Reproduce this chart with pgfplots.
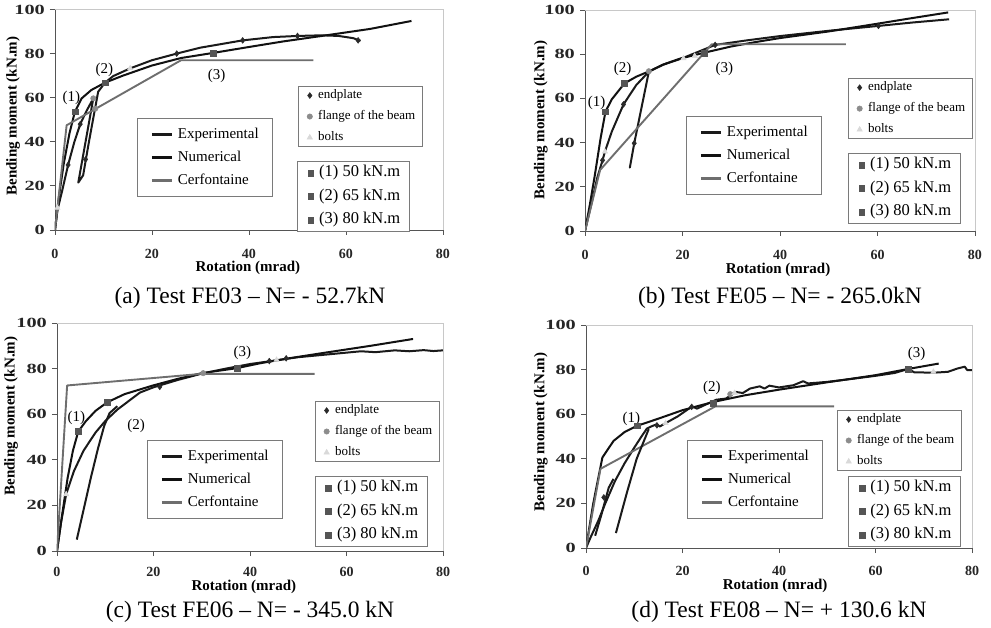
\documentclass[border=0pt]{standalone}
\usepackage{pgfplots}
\pgfplotsset{compat=1.18}
\usepackage{fontspec}
\setmainfont{Liberation Serif}
\definecolor{expc}{HTML}{1A1A1A}
\definecolor{numc}{HTML}{111111}
\definecolor{cerfc}{HTML}{6E6E6E}
\definecolor{endc}{HTML}{2A2A2A}
\definecolor{flgc}{HTML}{8C8C8C}
\definecolor{bltc}{HTML}{D9D9D9}
\definecolor{sqc}{HTML}{555555}
\definecolor{axc}{HTML}{555555}
\definecolor{frc}{HTML}{C8C8C8}
\definecolor{lgc}{HTML}{7A7A7A}
\tikzset{lab/.style={font=\fontsize{15}{15}\selectfont, inner sep=0pt},
  captxt/.style={font=\fontsize{23.5}{24}\selectfont, inner sep=0pt}}
\pgfplotsset{
  geom/.style={scale only axis, anchor=south west, xmin=0, xmax=80, ymin=0, ymax=100},
  panel/.style={geom,
    xtick={0,20,40,60,80}, ytick={0,20,40,60,80,100},
    axis lines=left, axis line style={-, draw=axc, line width=0.9pt},
    tick align=outside, major tick length=5pt,
    tick style={draw=axc, line width=0.9pt},
    tick label style={font=\fontsize{14}{14}\selectfont\bfseries, text=black!85},
    yticklabel style={xscale=1.45},
    /pgf/number format/assume math mode=true,
    label style={font=\fontsize{15}{15}\selectfont\bfseries, inner sep=0pt},
    xlabel={Rotation (mrad)}, ylabel={Bending moment (kN.m)},
    after end axis/.code={\draw[frc, line width=0.9pt] (rel axis cs:0,1) -- (rel axis cs:1,1) -- (rel axis cs:1,0);},
    legend cell align=left,
    legend style={draw=lgc, line width=0.8pt, fill=white, anchor=north west,
      inner xsep=13pt, inner ysep=8pt, row sep=6.9pt,
      font=\fontsize{15}{15}\selectfont,
      nodes={inner sep=1pt, text height=10.8pt, text depth=3.3pt}},
    legend image code/.code={\draw[##1, line width=3pt] (0pt,0pt) -- (20pt,0pt); \path (24pt,0pt);},
  },
  over/.style={geom, hide axis, legend cell align=left,
    legend image code/.code={\draw[mark repeat=2, mark phase=2, ##1] plot coordinates {(0pt,0pt)(5pt,0pt)(10pt,0pt)}; \path (0pt,0pt) (12pt,0pt);}},
  L2/.style={legend style={draw=lgc, line width=0.8pt, fill=white, anchor=north west,
      inner xsep=6pt, inner ysep=2pt, row sep=6.7pt,
      font=\fontsize{13}{13}\selectfont,
      nodes={inner sep=1pt, text height=9.4pt, text depth=2.9pt}}},
  L3/.style={legend style={draw=lgc, line width=0.8pt, fill=white, anchor=north west,
      inner xsep=8pt, inner ysep=3pt, row sep=6.5pt,
      font=\fontsize{16.5}{16.5}\selectfont,
      nodes={inner sep=1pt, text height=11.5pt, text depth=3.5pt}}},
  expP/.style={expc, line width=2pt, line join=round},
  numP/.style={numc, line width=2pt, line join=round},
  cerfP/.style={cerfc, line width=1.9pt, line join=round},
  endM/.style={only marks, mark=diamond*, mark size=2.9pt, mark options={fill=endc, draw=endc, line width=0.5pt}},
  flgM/.style={only marks, mark=*, mark size=2.7pt, mark options={fill=flgc, draw=flgc, line width=0.5pt}},
  bltM/.style={only marks, mark=triangle*, mark size=3.1pt, mark options={fill=bltc, draw=bltc, line width=0.5pt}},
  sqM/.style={only marks, mark=square*, mark size=2.9pt, mark options={fill=sqc, draw=sqc, line width=0.5pt}},
}
\begin{document}
\begin{tikzpicture}[x=1pt,y=1pt]
\useasboundingbox (0pt,0pt) rectangle (991pt,-628pt);

% ================= (a) =================
\begin{axis}[panel, at={(55pt,-230pt)}, width=388pt, height=220.5pt,
  xticklabel style={yshift=-10.5pt},
  xlabel style={at={(axis description cs:0.497,-0.172)}, anchor=center},
  ylabel style={at={(axis description cs:-0.108,0.517)}, anchor=center},
  legend style={at={(0.2113,0.5079)}}]
\addplot[expP] coordinates {(0,0)(0.5,9)(1.5,18)(2.7,29.5)(4,40)(5.2,48)(6.5,54)(7.9,59.7)(4.8,21.5)(5.8,24.8)(7,40)(8,52)(8.9,62.7)(10.3,66.8)(12,69.8)(15.5,73.3)(20,77)(25.1,80)(30,82.7)(38.7,86)(45,87.5)(50,88)(55,88.3)(58.5,88)(61.5,87)(63,85.8)};
\addlegendentry{Experimental}
\addplot[numP] coordinates {(0,0)(0.8,15)(1.8,30)(3,44)(4.1,53.6)(5.5,59.7)(7.5,63.5)(10.3,66.8)(14,70)(20,74.6)(26,78)(32.6,80.3)(40,83)(47,85.5)(55,88)(65,91.2)(73.5,94.8)};
\addlegendentry{Numerical}
\addplot[cerfP] coordinates {(0,0)(2.4,47.5)(26,77)(53.3,77)};
\addlegendentry{Cerfontaine}
\node[lab] at (axis cs:3.4,60) {(1)};
\node[lab] at (axis cs:10.2,72.5) {(2)};
\node[lab] at (axis cs:33.3,69.8) {(3)};
\end{axis}
\begin{axis}[over, L2, at={(55pt,-230pt)}, width=388pt, height=220.5pt, legend style={at={(0.6263,0.6531)}}]
\addplot[endM] coordinates {(2.7,29.5)(5.2,48)(6.3,32)(25.1,80)(38.7,86)(50,88)(62.5,86)};
\addlegendentry{endplate}
\addplot[flgM] coordinates {(7.9,59.7)(8.3,55)};
\addlegendentry{flange of the beam\hspace{6pt}}
\addplot[bltM] coordinates {(0.5,10)(15.5,73.3)};
\addlegendentry{bolts}
\end{axis}
\begin{axis}[over, L3, at={(55pt,-230pt)}, width=388pt, height=220.5pt, legend style={at={(0.6237,0.3129)}}]
\addplot[sqM] coordinates {(4.1,53.6)}; \addlegendentry{(1) 50 kN.m\hspace{9pt}}
\addplot[sqM] coordinates {(10.3,66.8)}; \addlegendentry{(2) 65 kN.m}
\addplot[sqM] coordinates {(32.6,80.3)}; \addlegendentry{(3) 80 kN.m}
\end{axis}

% ================= (b) =================
\begin{axis}[panel, at={(585pt,-231pt)}, width=390pt, height=221pt,
  xticklabel style={yshift=-11pt},
  xlabel style={at={(axis description cs:0.495,-0.177)}, anchor=center},
  ylabel style={at={(axis description cs:-0.113,0.502)}, anchor=center},
  legend style={at={(0.259,0.520)}}]
\addplot[expP] coordinates {(0,0)(1.5,14)(2.5,24)(3.6,32)(4.1,36)(5.5,45)(7.9,57.3)(10.5,66)(13.1,72.1)(10.1,39.7)(9.2,28.7)(10.1,39.7)(13.1,72.1)(16,75.2)(20,78.2)(26.7,84.2)(33,86.2)(40,88.2)(50,90.6)(60.2,92.8)(67,94.3)(74.7,95.8)};
\addlegendentry{Experimental}
\addplot[numP] coordinates {(0,0)(1,12)(2,25)(3.2,42)(4.2,54)(5.5,59.6)(8.1,66.8)(10.5,69.8)(13.3,72.4)(16,75.3)(19.5,78)(24.5,80.7)(30,83.5)(35,85.5)(40,87.3)(50,90.3)(60,93.8)(67,96.3)(74.5,98.9)};
\addlegendentry{Numerical}
\addplot[cerfP] coordinates {(0,0)(3.1,27.6)(26,84.5)(53.5,84.5)};
\addlegendentry{Cerfontaine}
\node[lab] at (axis cs:2.4,57.8) {(1)};
\node[lab] at (axis cs:7.7,73.2) {(2)};
\node[lab] at (axis cs:28.6,73.2) {(3)};
\end{axis}
\begin{axis}[over, L2, at={(585pt,-231pt)}, width=390pt, height=221pt, legend style={at={(0.674,0.692)}}]
\addplot[endM] coordinates {(3.6,32)(7.9,57.3)(10.1,39.7)(26.7,84.2)(60.2,92.8)};
\addlegendentry{endplate}
\addplot[flgM] coordinates {(13.1,72.3)};
\addlegendentry{flange of the beam\hspace{6pt}}
\addplot[bltM] coordinates {(4.1,35.9)(20.2,78.1)(22.5,79.2)};
\addlegendentry{bolts}
\end{axis}
\begin{axis}[over, L3, at={(585pt,-231pt)}, width=390pt, height=221pt, legend style={at={(0.674,0.353)}}]
\addplot[sqM] coordinates {(4.2,54)}; \addlegendentry{(1) 50 kN.m\hspace{9pt}}
\addplot[sqM] coordinates {(8.1,66.8)}; \addlegendentry{(2) 65 kN.m}
\addplot[sqM] coordinates {(24.5,80.3)}; \addlegendentry{(3) 80 kN.m}
\end{axis}

% ================= (c) =================
\begin{axis}[panel, at={(57pt,-551pt)}, width=386pt, height=228pt,
  xticklabel style={yshift=-8pt},
  xlabel style={at={(axis description cs:0.484,-0.156)}, anchor=center},
  ylabel style={at={(axis description cs:-0.119,0.592)}, anchor=center},
  legend style={at={(0.233,0.487)}}]
\addplot[expP] coordinates {(0,0)(0.8,12)(1.9,24.9)(3.5,35)(5.5,44)(8,52)(10,57)(12.5,62)(15,66)(17.2,69.5)(20,71.8)(25,75)(30,77.8)(35,80)(40,82)(45,83.5)(50,85)(55,86)(60,87)(63,87.6)(66,87.2)(70,88)(73,87.6)(76,88.1)(78,87.7)(80,88)};
\addlegendentry{Experimental}
\addplot[numP] coordinates {(0,0)(1,15)(2.2,32)(3.3,44)(4.4,52.4)(6,57)(8,61.5)(10.4,65.2)(14,68.8)(19.9,72.6)(25,75.5)(30,78)(37.3,80.2)(42,82.3)(48,84.5)(55,86.8)(65,90)(73.8,93)};
\addlegendentry{Numerical}
\addplot[cerfP] coordinates {(0,0)(2.1,72.6)(30,77.7)(53.4,77.7)};
\addlegendentry{Cerfontaine}
\addplot[expP, forget plot] coordinates {(4.1,5)(5.5,18)(7,32)(8.5,45)(9.8,55)(10.9,60.5)(12.5,63.5)};
\node[lab] at (axis cs:4.0,58.4) {(1)};
\node[lab] at (axis cs:16.4,54.7) {(2)};
\node[lab] at (axis cs:38.4,87) {(3)};
\end{axis}
\begin{axis}[over, L2, at={(57pt,-551pt)}, width=386pt, height=228pt, legend style={at={(0.668,0.658)}}]
\addplot[endM] coordinates {(21.3,72)(44,83.3)(47.5,84.5)};
\addlegendentry{endplate}
\addplot[flgM] coordinates {(30.3,78)(10.5,64.8)};
\addlegendentry{flange of the beam\hspace{6pt}}
\addplot[bltM] coordinates {(1.9,24.9)(45.5,83.8)};
\addlegendentry{bolts}
\end{axis}
\begin{axis}[over, L3, at={(57pt,-551pt)}, width=386pt, height=228pt, legend style={at={(0.668,0.329)}}]
\addplot[sqM] coordinates {(4.4,52.4)}; \addlegendentry{(1) 50 kN.m\hspace{9pt}}
\addplot[sqM] coordinates {(10.4,65.2)}; \addlegendentry{(2) 65 kN.m}
\addplot[sqM] coordinates {(37.3,80)}; \addlegendentry{(3) 80 kN.m}
\end{axis}

% ================= (d) =================
\begin{axis}[panel, at={(586pt,-548pt)}, width=386pt, height=223pt,
  xticklabel style={yshift=-10pt},
  xlabel style={at={(axis description cs:0.490,-0.170)}, anchor=center},
  ylabel style={at={(axis description cs:-0.117,0.520)}, anchor=center},
  legend style={at={(0.262,0.484)}}]
\addplot[expP] coordinates {(0,0)(1,5)(2.5,12)(4,20)(6,30)(8,38)(10,45)(11.5,50)(12.6,53.5)(13.5,54.5)(14.7,55.5)(15.3,54.5)(16.5,56)(19,59)(21,62)(22,63.5)(23,62.5)(25,64.5)(27,66.5)(29,67)(31,70)(32.5,69.5)(34,71.5)(36,72.5)(37,71.5)(38,72.8)(40,72)(43,73)(45,74.8)(46,73.8)(50,74.5)(55,75.8)(60,77.2)(64,78.5)(66.8,80.3)(68,78.8)(72,78.6)(75,79)(77,80.5)(78.5,81.3)(79,79.8)(80,79.8)};
\addlegendentry{Experimental}
\addplot[numP] coordinates {(0,0)(1.5,20)(3.4,40.6)(5.7,48)(8,52)(10.6,54.8)(15,58)(20,61.8)(26.4,65.5)(33,68.5)(40,71)(50,74.3)(60,77.5)(66.8,80.3)(73.1,82.7)};
\addlegendentry{Numerical}
\addplot[cerfP] coordinates {(0,0)(3,35.5)(26.8,63.5)(51.4,63.5)};
\addlegendentry{Cerfontaine}
\addplot[expP, forget plot] coordinates {(1.9,5.5)(3.2,15)(4.7,27)(5.7,31)};
\addplot[expP, forget plot] coordinates {(6.2,6.7)(8.5,25)(10.5,40)(13,53.3)};
\node[lab] at (axis cs:9.4,57.8) {(1)};
\node[lab] at (axis cs:26.1,71.9) {(2)};
\node[lab] at (axis cs:68.5,87.2) {(3)};
\end{axis}
\begin{axis}[over, L2, at={(586pt,-548pt)}, width=386pt, height=223pt, legend style={at={(0.650,0.619)}}]
\addplot[endM] coordinates {(3.7,22.7)(14.7,55)(21.9,63.3)};
\addlegendentry{endplate}
\addplot[flgM] coordinates {(29.9,69)};
\addlegendentry{flange of the beam\hspace{6pt}}
\addplot[bltM] coordinates {(16.5,56)(30.8,69.5)(72,79)};
\addlegendentry{bolts}
\end{axis}
\begin{axis}[over, L3, at={(586pt,-548pt)}, width=386pt, height=223pt, legend style={at={(0.679,0.323)}}]
\addplot[sqM] coordinates {(10.6,54.8)}; \addlegendentry{(1) 50 kN.m\hspace{9pt}}
\addplot[sqM] coordinates {(26.4,64.8)}; \addlegendentry{(2) 65 kN.m}
\addplot[sqM] coordinates {(66.8,80.3)}; \addlegendentry{(3) 80 kN.m}
\end{axis}

% ================= captions =================
\node[captxt] at (250pt,-298pt) {(a) Test FE03 – N= - 52.7kN};
\node[captxt] at (780pt,-298pt) {(b) Test FE05 – N= - 265.0kN};
\node[captxt] at (250pt,-612pt) {(c) Test FE06 – N= - 345.0 kN};
\node[captxt] at (779pt,-612pt) {(d) Test FE08 – N= + 130.6 kN};
\end{tikzpicture}
\end{document}
